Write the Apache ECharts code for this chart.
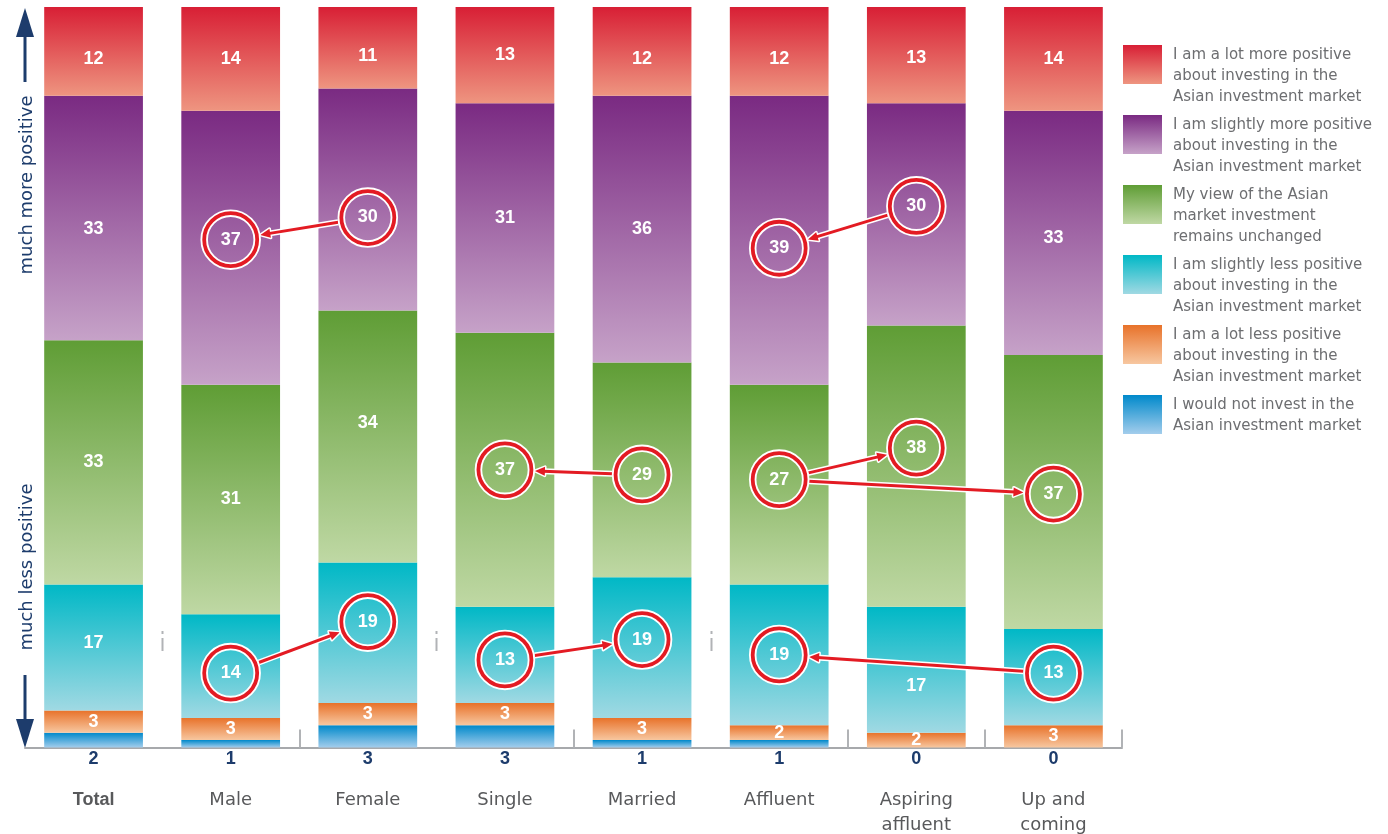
<!DOCTYPE html>
<html>
<head>
<meta charset="utf-8">
<script src="https://cdn.jsdelivr.net/npm/echarts@6/dist/echarts.min.js"></script>
<style>
html, body { margin: 0; padding: 0; background: #fff; }
#chart { width: 1388px; height: 834px; }
</style>
</head>
<body>
<div id="chart"></div>
<script>
"use strict";

var categories = ['Total', 'Male', 'Female', 'Single', 'Married', 'Affluent', 'Aspiring\naffluent', 'Up and\ncoming'];

// segments, stacked from the bottom up (percent)
var notInvest    = [2, 1, 3, 3, 1, 1, 0, 0];
var lotLess      = [3, 3, 3, 3, 3, 2, 2, 3];
var slightlyLess = [17, 14, 19, 13, 19, 19, 17, 13];
var unchanged    = [33, 31, 34, 37, 29, 27, 38, 37];
var slightlyMore = [33, 37, 30, 31, 36, 39, 30, 33];
var lotMore      = [12, 14, 11, 13, 12, 12, 13, 14];

var segNames = [
    'I would not invest in the\nAsian investment market',
    'I am a lot less positive\nabout investing in the\nAsian investment market',
    'I am slightly less positive\nabout investing in the\nAsian investment market',
    'My view of the Asian\nmarket investment\nremains unchanged',
    'I am slightly more positive\nabout investing in the\nAsian investment market',
    'I am a lot more positive\nabout investing in the\nAsian investment market'
];
var segValues = [notInvest, lotLess, slightlyLess, unchanged, slightlyMore, lotMore];
var segColors = [
    ['#0089cb', '#a3cdec'],
    ['#e8722a', '#f7c7a0'],
    ['#00b8c6', '#a0d9e3'],
    ['#5f9d35', '#bfd8a4'],
    ['#7a2a82', '#c6a2c8'],
    ['#d81f35', '#ee9580']
];

// highlighted shifts: [from category, to category, segment index]
var arrows = [
    [2, 1, 4],
    [1, 2, 2],
    [4, 3, 3],
    [3, 4, 2],
    [6, 5, 4],
    [5, 6, 3],
    [5, 7, 3],
    [7, 5, 2]
];

// category boundaries that get a tick mark on the base line
var tickAt = [2, 4, 6, 7];
// boundaries with the small stray mark instead
var strayAt = [1, 3, 5];

// label placement tweaks in px ("category,segment": shift down)
var labelNudge = {
    '0,5': 8, '2,5': 8, '4,5': 8, '5,5': 8, '6,5': 3,
    '0,4': 11, '7,4': 5, '1,4': -8, '2,4': 18, '5,4': 8, '6,4': -8,
    '2,3': -13, '4,3': 5, '5,3': -5, '6,3': -18, '7,3': 2,
    '0,2': -5, '1,2': 7, '2,2': -11, '3,2': 5, '4,2': -8, '6,2': 16, '7,2': -4
};

var FONT = '"DejaVu Sans", Verdana, sans-serif';
var NUMFONT = '"Liberation Sans", Arial, sans-serif';
var NAVY = '#1d3c6c';

function nudge(cat, seg) {
    return labelNudge[cat + ',' + seg] || 0;
}

function segMid(cat, seg) {
    var below = 0;
    for (var s = 0; s < seg; s++) below += segValues[s][cat];
    return below + segValues[seg][cat] / 2;
}

function grad(c, end) {
    return new echarts.graphic.LinearGradient(0, 0, 0, 1, [
        { offset: 0, color: c[0] },
        { offset: end, color: c[1] },
        { offset: 1, color: c[1] }
    ]);
}

var ringData = [];
var ringShift = [];
var seen = {};
arrows.forEach(function (a) {
    [a[0], a[1]].forEach(function (cat) {
        var key = cat + '_' + a[2];
        if (!seen[key]) {
            seen[key] = true;
            ringData.push([cat, segMid(cat, a[2])]);
            ringShift.push(nudge(cat, a[2]));
        }
    });
});
var arrowData = arrows.map(function (a) {
    return [a[0], segMid(a[0], a[2]), a[1], segMid(a[1], a[2])];
});
var arrowShift = arrows.map(function (a) {
    return [nudge(a[0], a[2]), nudge(a[1], a[2])];
});

function renderRing(params, api) {
    var c = api.coord([api.value(0), api.value(1)]);
    var cy = c[1] + ringShift[params.dataIndex];
    return {
        type: 'group',
        children: [
            { type: 'circle', shape: { cx: c[0], cy: cy, r: 26.5 }, style: { fill: 'none', stroke: '#fff', lineWidth: 7.5 } },
            { type: 'circle', shape: { cx: c[0], cy: cy, r: 26.5 }, style: { fill: 'none', stroke: '#e31b23', lineWidth: 3.8 } }
        ]
    };
}

function renderArrow(params, api) {
    var sh = arrowShift[params.dataIndex];
    var a = api.coord([api.value(0), api.value(1)]);
    var b = api.coord([api.value(2), api.value(3)]);
    a[1] += sh[0];
    b[1] += sh[1];
    var dx = b[0] - a[0], dy = b[1] - a[1];
    var len = Math.sqrt(dx * dx + dy * dy);
    var ux = dx / len, uy = dy / len;
    var px = -uy, py = ux;
    var r = 30;
    var s = [a[0] + ux * r, a[1] + uy * r];
    var tip = [b[0] - ux * r, b[1] - uy * r];
    var base = [tip[0] - ux * 10, tip[1] - uy * 10];
    var head = [tip, [base[0] + px * 4.5, base[1] + py * 4.5], [base[0] - px * 4.5, base[1] - py * 4.5]];
    var shaft = { x1: s[0], y1: s[1], x2: base[0] + ux * 2, y2: base[1] + uy * 2 };
    return {
        type: 'group',
        children: [
            { type: 'line', shape: shaft, style: { stroke: '#fff', lineWidth: 6 } },
            { type: 'polygon', shape: { points: head }, style: { fill: '#fff', stroke: '#fff', lineWidth: 3, lineJoin: 'round' } },
            { type: 'line', shape: shaft, style: { stroke: '#e31b23', lineWidth: 3 } },
            { type: 'polygon', shape: { points: head }, style: { fill: '#e31b23' } }
        ]
    };
}

var series = segNames.map(function (name, i) {
    return {
        name: name,
        type: 'bar',
        stack: 'all',
        barWidth: '72%',
        data: segValues[i].map(function (v, cat) {
            return { value: v, label: { offset: [0, nudge(cat, i)] } };
        }),
        itemStyle: { color: grad(segColors[i], 1) },
        label: {
            show: i > 0,
            position: 'inside',
            color: '#fff',
            fontWeight: 'bold',
            fontSize: 18,
            fontFamily: NUMFONT,
            formatter: function (p) { return p.value > 0 ? String(p.value) : ''; }
        }
    };
});

series.push({
    name: 'arrows',
    type: 'custom',
    z: 3,
    renderItem: renderArrow,
    encode: { x: [0, 2], y: [1, 3] },
    data: arrowData,
    silent: true
});
series.push({
    name: 'rings',
    type: 'custom',
    z: 4,
    renderItem: renderRing,
    encode: { x: 0, y: 1 },
    data: ringData,
    silent: true
});

var legendData = [];
for (var i = segNames.length - 1; i >= 0; i--) {
    var h = segNames[i].split('\n').length * 21;
    legendData.push({
        name: segNames[i],
        icon: 'path://M0,0H39V39H0ZM0,' + h,
        itemStyle: { color: grad(segColors[i], 39 / h) }
    });
}

// side captions with their arrows
var sideGraphic = [
    { type: 'text', x: 27, y: 185, rotation: Math.PI / 2,
      style: { text: 'much more positive', fill: NAVY, font: '18px ' + FONT, align: 'center', verticalAlign: 'middle' } },
    { type: 'text', x: 27, y: 567, rotation: Math.PI / 2,
      style: { text: 'much less positive', fill: NAVY, font: '18px ' + FONT, align: 'center', verticalAlign: 'middle' } },
    { type: 'line', shape: { x1: 25, y1: 82, x2: 25, y2: 34 }, style: { stroke: NAVY, lineWidth: 3 } },
    { type: 'polygon', shape: { points: [[25, 8], [16, 37], [34, 37]] }, style: { fill: NAVY } },
    { type: 'line', shape: { x1: 25, y1: 675, x2: 25, y2: 722 }, style: { stroke: NAVY, lineWidth: 3 } },
    { type: 'polygon', shape: { points: [[25, 748], [16, 719], [34, 719]] }, style: { fill: NAVY } }
];

var chart = echarts.init(document.getElementById('chart'));

chart.setOption({
    animation: false,
    textStyle: { fontFamily: FONT },
    grid: { left: 25, right: 266, top: 7, bottom: 86, containLabel: false },
    legend: {
        orient: 'vertical',
        left: 1118,
        top: 40,
        itemWidth: 39,
        itemHeight: 63,
        itemGap: 7,
        data: legendData,
        textStyle: { fontSize: 15, lineHeight: 21, color: '#6d6e71', fontFamily: FONT, padding: [0, 0, 0, 6] }
    },
    xAxis: {
        type: 'category',
        data: categories,
        axisLine: { lineStyle: { color: '#a7a9ac', width: 2 } },
        axisTick: {
            show: true,
            inside: true,
            length: 18,
            interval: function (idx) { return tickAt.indexOf(idx) >= 0; },
            lineStyle: { color: '#b1b3b6', width: 2 }
        },
        axisLabel: {
            interval: 0,
            margin: 0,
            formatter: function (value, idx) {
                var style = idx === 0 ? 'b' : 'c';
                var txt = value.split('\n').map(function (l) { return '{' + style + '|' + l + '}'; }).join('\n');
                return '{n|' + notInvest[idx] + '}\n{g| }\n' + txt;
            },
            rich: {
                n: { fontSize: 18, fontWeight: 'bold', color: NAVY, lineHeight: 24, fontFamily: NUMFONT },
                g: { fontSize: 10, lineHeight: 16 },
                c: { fontSize: 18, color: '#58595b', lineHeight: 25, fontFamily: FONT },
                b: { fontSize: 18, fontWeight: 'bold', color: '#58595b', lineHeight: 25, fontFamily: NUMFONT }
            }
        }
    },
    yAxis: {
        type: 'value',
        min: 0,
        max: 100,
        show: false,
        splitLine: { show: false }
    },
    graphic: sideGraphic,
    series: series
});

// small stray marks between some bars, halfway between two category centres
var marks = [];
strayAt.forEach(function (idx) {
    var xa = chart.convertToPixel({ xAxisIndex: 0 }, categories[idx - 1]);
    var xb = chart.convertToPixel({ xAxisIndex: 0 }, categories[idx]);
    var x = Math.round((xa + xb) / 2) + 0.5;
    marks.push({ type: 'rect', shape: { x: x - 1, y: 631, width: 2, height: 3 }, style: { fill: '#b1b3b6' } });
    marks.push({ type: 'rect', shape: { x: x - 1, y: 638, width: 2, height: 13 }, style: { fill: '#b1b3b6' } });
});
chart.setOption({ graphic: sideGraphic.concat(marks) });
</script>
</body>
</html>
